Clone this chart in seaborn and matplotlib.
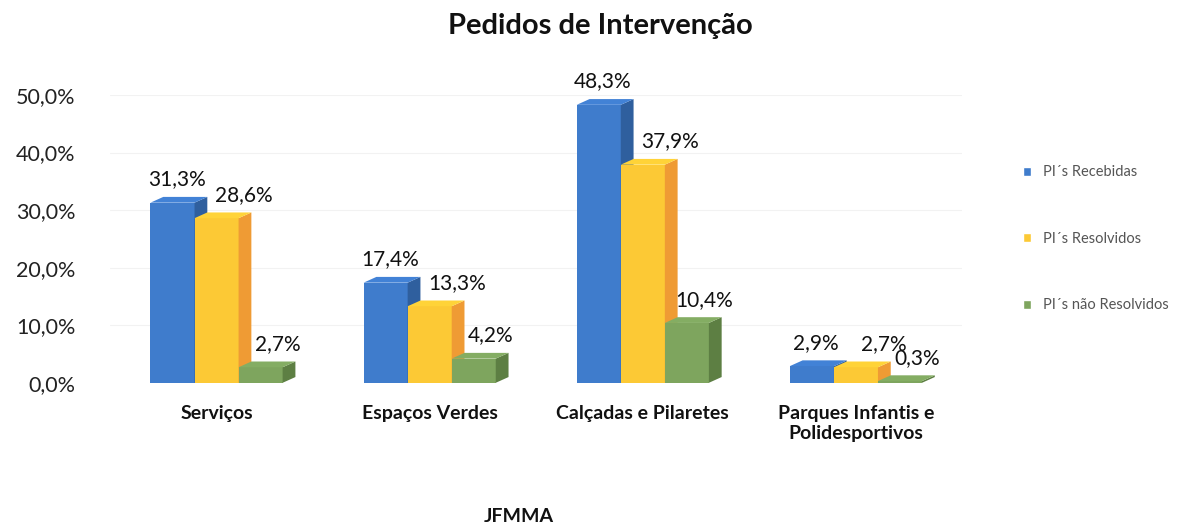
import matplotlib
matplotlib.use("Agg")
import matplotlib.pyplot as plt
import matplotlib.colors as mcolors
from matplotlib.patches import Polygon
import pandas as pd
import seaborn as sns

# Data
categories = ["Serviços", "Espaços Verdes", "Calçadas e Pilaretes",
              "Parques Infantis e\nPolidesportivos"]
series = ["PI´s Recebidas", "PI´s Resolvidos", "PI´s não Resolvidos"]
recebidas = [31.3, 17.4, 48.3, 2.9]
resolvidos = [28.6, 13.3, 37.9, 2.7]
nao_resolvidos = [2.7, 4.2, 10.4, 0.3]
y_ticks = [0, 10, 20, 30, 40, 50]

colors = ["#3f7ccc", "#fcc935", "#7ea55e"]
side_colors = ["#2f5f9e", "#ef9b34", "#5d7f43"]
label_shift = [0.02, 0.13, 0.08]

df = pd.DataFrame({
    "categoria": categories * 3,
    "serie": [s for s in series for _ in categories],
    "valor": recebidas + resolvidos + nao_resolvidos,
})

sns.set_theme(style="white")
plt.rcParams["font.family"] = ["Lato", "DejaVu Sans"]

fig = plt.figure(figsize=(11.89, 5.28), dpi=100)
ax = fig.add_axes([0.0925, 0.275, 0.717, 0.545])

sns.barplot(data=df, x="categoria", y="valor", hue="serie",
            palette=dict(zip(series, colors)), width=0.62, gap=0,
            saturation=1, ax=ax, legend=True)

# pseudo 3D faces + data labels
dx, dy = 0.06, 1.0
for i, cont in enumerate(ax.containers):
    for bar in cont:
        x0 = bar.get_x()
        w = bar.get_width()
        h = bar.get_height()
        bar.set_edgecolor("none")
        bar.set_zorder(2 + i)
        side = Polygon([(x0 + w, 0), (x0 + w, h), (x0 + w + dx, h + dy),
                        (x0 + w + dx, dy)], closed=True,
                       facecolor=side_colors[i], edgecolor="none", zorder=2 + i)
        top = Polygon([(x0, h), (x0 + w, h), (x0 + w + dx, h + dy),
                       (x0 + dx, h + dy)], closed=True,
                      facecolor=mcolors.to_hex(
                          [min(1, c * 1.05) for c in mcolors.to_rgb(colors[i])]),
                      edgecolor="none", zorder=2 + i)
        ax.add_patch(side)
        ax.add_patch(top)
        ax.text(x0 + w / 2 + label_shift[i], h + dy + 1.3,
                f"{h:.1f}%".replace(".", ","),
                ha="center", va="bottom", fontsize=15, color="#111111",
                clip_on=False, zorder=10)

for y in y_ticks[1:]:
    ax.axhline(y, color="#f2f2f2", linewidth=0.8, zorder=0)

ax.set_ylim(0, 50)
ax.set_xlim(-0.5, 3.5)
ax.set_yticks(y_ticks)
ax.set_yticklabels([f"{v:.1f}%".replace(".", ",") for v in y_ticks],
                   fontsize=15.5, color="#222222")
ax.tick_params(axis="y", pad=25, length=0)
ax.tick_params(axis="x", length=0, pad=16)
ax.set_xticks(range(len(categories)))
ax.set_xticklabels(categories, fontsize=14, fontweight="bold",
                   color="#111111")
for spine in ax.spines.values():
    spine.set_visible(False)

ax.set_ylabel("")
ax.set_xlabel("JFMMA", fontsize=14, fontweight="bold", color="#111111",
              labelpad=48)
ax.xaxis.set_label_coords(0.48, -0.435)

fig.suptitle("Pedidos de Intervenção", x=0.505, y=0.975, fontsize=21,
             fontweight="bold", color="#111111")

leg = ax.legend(loc="center left", bbox_to_anchor=(1.055, 0.5), frameon=False,
                fontsize=10.5, labelspacing=3.6, handlelength=0.6,
                handleheight=0.6, handletextpad=0.8)
for t in leg.get_texts():
    t.set_color("#555555")

fig.savefig("out.png", dpi=100)
